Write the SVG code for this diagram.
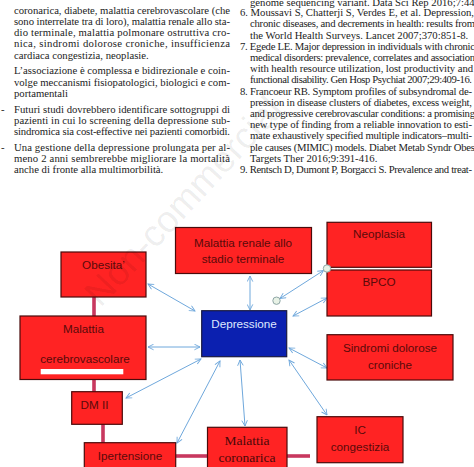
<svg xmlns="http://www.w3.org/2000/svg" width="474" height="467" viewBox="0 0 474 467">
<defs>
<style>
.t{font-family:"Liberation Serif","Times New Roman",serif;font-size:10.7px;fill:#1c1c1c}
.box{fill:#ff2323;stroke:#4a0b0b;stroke-width:1.2}
.dep{fill:#0b20b0;stroke:#1a1a40;stroke-width:1.2}
.lbl{font-family:"Liberation Sans",Arial,sans-serif;font-size:11.7px;fill:#5a0a0a;text-anchor:middle}
.lbs{font-family:"Liberation Serif","Times New Roman",serif;font-size:13.5px;fill:#4a0808;text-anchor:middle}
.arr{stroke:#6fa8dc;stroke-width:1;fill:none;marker-start:url(#ah);marker-end:url(#ah)}
.pk{stroke:#c8385f;stroke-width:3.6;fill:none}
.hd{fill:#e8f2e6;stroke:#8fa6a6;stroke-width:1}
</style>
<marker id="ah" viewBox="0 0 10 10" refX="9" refY="5" markerWidth="7" markerHeight="7" orient="auto-start-reverse" markerUnits="userSpaceOnUse">
<path d="M1,1 L9,5 L1,9" fill="none" stroke="#6fa8dc" stroke-width="1.3"/>
</marker>
</defs>
<rect width="474" height="467" fill="#ffffff"/>

<g id="left-column">
<text class="t" x="14" y="13.7" textLength="216" lengthAdjust="spacing">coronarica, diabete, malattia cerebrovascolare (che</text>
<text class="t" x="14" y="24.9" textLength="216" lengthAdjust="spacing">sono interrelate tra di loro), malattia renale allo sta-</text>
<text class="t" x="14" y="36.1" textLength="216" lengthAdjust="spacing">dio terminale, malattia polmonare ostruttiva cro-</text>
<text class="t" x="14" y="47.3" textLength="216" lengthAdjust="spacing">nica, sindromi dolorose croniche, insufficienza</text>
<text class="t" x="14" y="58.5">cardiaca congestizia, neoplasie.</text>
<text class="t" x="14" y="74.3" textLength="216" lengthAdjust="spacing">L’associazione è complessa e bidirezionale e coin-</text>
<text class="t" x="14" y="85.5" textLength="216" lengthAdjust="spacing">volge meccanismi fisiopatologici, biologici e com-</text>
<text class="t" x="14" y="96.7">portamentali</text>
<text class="t" x="1" y="112.5">-</text>
<text class="t" x="14" y="112.5" textLength="216" lengthAdjust="spacing">Futuri studi dovrebbero identificare sottogruppi di</text>
<text class="t" x="14" y="123.7" textLength="216" lengthAdjust="spacing">pazienti in cui lo screening della depressione sub-</text>
<text class="t" x="14" y="134.9" textLength="216" lengthAdjust="spacing">sindromica sia cost-effective nei pazienti comorbidi.</text>
<text class="t" x="1" y="150.7">-</text>
<text class="t" x="14" y="150.7" textLength="216" lengthAdjust="spacing">Una gestione della depressione prolungata per al-</text>
<text class="t" x="14" y="161.9" textLength="216" lengthAdjust="spacing">meno 2 anni sembrerebbe migliorare la mortalità</text>
<text class="t" x="14" y="173.1">anche di fronte alla multimorbilità.</text>
</g>

<g id="right-column">
<text class="t" x="250" y="5.6">genome sequencing variant. Data Sci Rep 2016;7:44389.</text>
<text class="t" x="240" y="16.2" textLength="234" lengthAdjust="spacing">6. Moussavi S, Chatterji S, Verdes E, et al. Depression,</text>
<text class="t" x="250" y="27.4" textLength="225" lengthAdjust="spacing">chronic diseases, and decrements in health: results from</text>
<text class="t" x="250" y="38.6">the World Health Surveys. Lancet 2007;370:851-8.</text>
<text class="t" x="240" y="49.8" textLength="235" lengthAdjust="spacing">7. Egede LE. Major depression in individuals with chronic</text>
<text class="t" x="250" y="61" textLength="225" lengthAdjust="spacing">medical disorders: prevalence, correlates and association</text>
<text class="t" x="250" y="72.2" textLength="223" lengthAdjust="spacing">with health resource utilization, lost productivity and</text>
<text class="t" x="250" y="83.4" textLength="222" lengthAdjust="spacing">functional disability. Gen Hosp Psychiat 2007;29:409-16.</text>
<text class="t" x="240" y="94.6" textLength="232" lengthAdjust="spacing">8. Francoeur RB. Symptom profiles of subsyndromal de-</text>
<text class="t" x="250" y="105.8" textLength="222" lengthAdjust="spacing">pression in disease clusters of diabetes, excess weight,</text>
<text class="t" x="250" y="117" textLength="225" lengthAdjust="spacing">and progressive cerebrovascular conditions: a promising</text>
<text class="t" x="250" y="128.2" textLength="222" lengthAdjust="spacing">new type of finding from a reliable innovation to esti-</text>
<text class="t" x="250" y="139.4" textLength="222" lengthAdjust="spacing">mate exhaustively specified multiple indicators–multi-</text>
<text class="t" x="250" y="150.6" textLength="225" lengthAdjust="spacing">ple causes (MIMIC) models. Diabet Metab Syndr Obes</text>
<text class="t" x="250" y="161.8">Targets Ther 2016;9:391-416.</text>
<text class="t" x="240" y="173" textLength="232" lengthAdjust="spacing">9. Rentsch D, Dumont P, Borgacci S. Prevalence and treat-</text>
</g>

<g id="connectors">
<line class="pk" x1="94" y1="297" x2="94" y2="316"/>
<line class="pk" x1="94" y1="380" x2="94" y2="392"/>
<line class="pk" x1="103" y1="424" x2="103" y2="443"/>
<line class="pk" x1="176" y1="456" x2="208" y2="456"/>
<line class="pk" x1="287" y1="456" x2="310" y2="456"/>
<line class="arr" x1="148" y1="284" x2="195" y2="311"/>
<line class="arr" x1="250" y1="276" x2="250" y2="310"/>
<line class="arr" x1="280" y1="298.5" x2="323.5" y2="270.5"/>
<line class="arr" x1="327" y1="298" x2="293" y2="316"/>
<line class="arr" x1="148" y1="347" x2="200" y2="347"/>
<line class="arr" x1="126" y1="398" x2="201" y2="359"/>
<line class="arr" x1="177" y1="443" x2="220" y2="361"/>
<line class="arr" x1="240" y1="360" x2="245" y2="426"/>
<line class="arr" x1="289" y1="348" x2="327" y2="368"/>
<line class="arr" x1="289" y1="360" x2="327" y2="415"/>
</g>

<g id="obesita">
<rect class="box" x="61" y="252" width="85" height="45"/>
<text class="lbl" x="103.5" y="269">Obesita’</text>
</g>
<g id="malattia-renale">
<rect class="box" x="175.5" y="227.5" width="136" height="46"/>
<text class="lbl" x="243" y="246.7">Malattia renale allo</text>
<text class="lbl" x="243" y="263.3">stadio terminale</text>
</g>
<g id="neoplasia">
<rect class="box" x="327" y="222.3" width="104.5" height="45"/>
<text class="lbl" x="379" y="238">Neoplasia</text>
</g>
<g id="bpco">
<rect class="box" x="327" y="270" width="104.5" height="46"/>
<text class="lbl" x="379" y="285.7">BPCO</text>
</g>
<g id="depressione">
<rect class="dep" x="201.7" y="310.7" width="85" height="46"/>
<text class="lbl" x="244" y="328" style="fill:#dfe8ff">Depressione</text>
</g>
<g id="malattia-cerebrovascolare">
<rect class="box" x="20" y="316" width="126" height="63.5"/>
<text class="lbl" x="83.5" y="333">Malattia</text>
<text class="lbl" x="85" y="363">cerebrovascolare</text>
<rect x="40.7" y="369" width="82.6" height="5.3" fill="#ffffff"/>
</g>
<g id="sindromi">
<rect class="box" x="327" y="334.7" width="126" height="45.3"/>
<text class="lbl" x="390" y="352.3">Sindromi dolorose</text>
<text class="lbl" x="390" y="369">croniche</text>
</g>
<g id="dm2">
<rect class="box" x="71.7" y="391.7" width="50.6" height="32.6"/>
<text class="lbl" x="94.5" y="409">DM II</text>
</g>
<g id="ic">
<rect class="box" x="317" y="416.7" width="86" height="46"/>
<text class="lbl" x="360" y="434">IC</text>
<text class="lbl" x="360" y="451.3">congestizia</text>
</g>
<g id="ipertensione">
<rect class="box" x="84.3" y="442.7" width="91.4" height="35"/>
<text class="lbl" x="130" y="459.7">Ipertensione</text>
</g>
<g id="malattia-coronarica">
<rect class="box" x="207.5" y="427.3" width="79.5" height="50"/>
<text class="lbs" x="247" y="444.5">Malattia</text>
<text class="lbs" x="247" y="461.5">coronarica</text>
</g>

<g id="handles">
<circle class="hd" cx="276.5" cy="300.7" r="3.7"/>
<circle class="hd" cx="327" cy="268.5" r="3.7"/>
</g>

<text x="183" y="201" transform="rotate(-47 183 201)" text-anchor="middle" dy="0.35em" font-family="Liberation Sans, Arial, sans-serif" font-size="37" fill="#000000" fill-opacity="0.08">Non-commercial</text>
</svg>
